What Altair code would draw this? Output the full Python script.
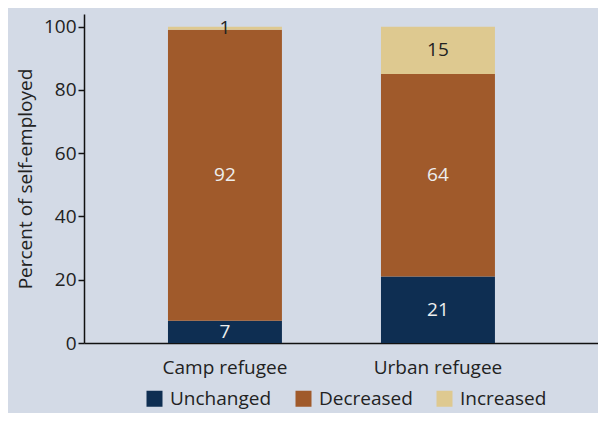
import altair as alt
import pandas as pd

groups = ["Camp refugee", "Urban refugee"]
categories = ["Unchanged", "Decreased", "Increased"]
unchanged = [7, 21]
decreased = [92, 64]
increased = [1, 15]
colors = ["#0e2e52", "#a05a2b", "#dec990"]
label_colors = ["#eeeeee", "#eeeeee", "#222222"]

rows = []
for i, g in enumerate(groups):
    for k, (cat, vals) in enumerate(zip(categories, [unchanged, decreased, increased])):
        rows.append({"group": g, "category": cat, "value": vals[i], "order": k,
                     "tcolor": label_colors[k]})
df = pd.DataFrame(rows)

FONT = "Open Sans"
FS = 19

base = alt.Chart(df).transform_stack(
    stack="value", groupby=["group"], sort=[alt.SortField("order")], as_=["y0", "y1"]
).transform_calculate(mid="(datum.y0 + datum.y1) / 2")

x = alt.X("group:N", sort=groups,
          scale=alt.Scale(paddingInner=0.465, paddingOuter=0.439, align=0.449),
          axis=alt.Axis(title=None, labelAngle=0, ticks=False, labelPadding=15,
                        domainColor="#111", domainWidth=1.5, labelFontSize=FS,
                        labelFont=FONT, labelColor="#222"))

bars = base.mark_bar().encode(
    x=x,
    y=alt.Y("y0:Q", scale=alt.Scale(domain=[0, 104], nice=False),
            axis=alt.Axis(title="Percent of self-employed", values=[0, 20, 40, 60, 80, 100],
                          grid=False, domainColor="#111", domainWidth=1.5, tickColor="#111",
                          tickSize=6, tickWidth=1.5, labelFontSize=FS, labelFont=FONT,
                          labelColor="#222", titleFont=FONT, titleFontSize=FS,
                          titleFontWeight="normal", titleColor="#222", titlePadding=8)),
    y2="y1:Q",
    color=alt.Color("category:N", sort=categories,
                    scale=alt.Scale(domain=categories, range=colors),
                    legend=alt.Legend(title=None, orient="none", direction="horizontal",
                                      legendX=61, legendY=375, symbolType="square",
                                      symbolSize=256, symbolStrokeWidth=0,
                                      labelFontSize=FS, labelFont=FONT, labelColor="#222",
                                      columnPadding=22, labelOffset=6)),
)

texts = base.mark_text(font=FONT, fontSize=FS, baseline="middle").encode(
    x=alt.X("group:N", sort=groups),
    y=alt.Y("mid:Q"),
    text=alt.Text("value:Q"),
    color=alt.Color("tcolor:N", scale=None),
)

chart = alt.layer(bars, texts).properties(
    width=514, height=329,
    background="#d3dae6",
    autosize=alt.AutoSizeParams(type="none"),
    padding={"left": 76, "top": 6, "right": 0, "bottom": 70},
).configure_view(stroke=None).configure_axis(labelFontWeight="normal")

chart.save("out.html", embed_options={"renderer": "svg", "actions": False})
